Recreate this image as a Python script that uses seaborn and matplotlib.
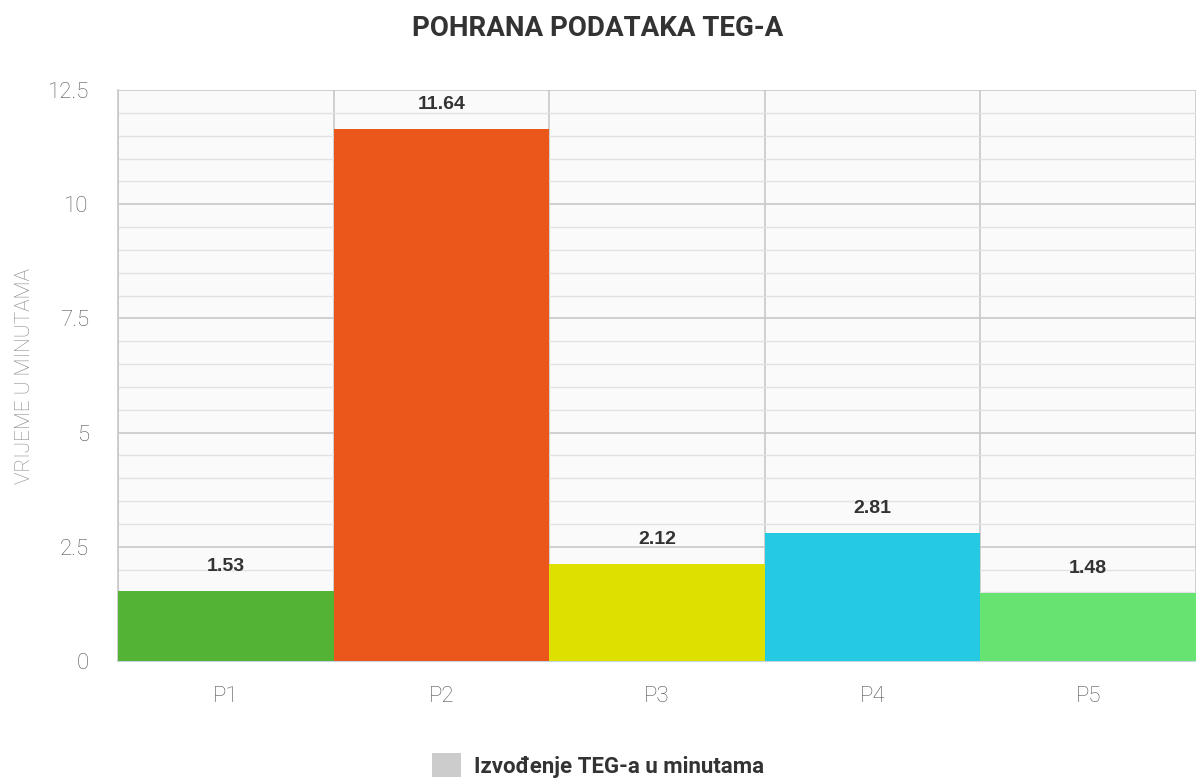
import numpy as np
import pandas as pd
import seaborn as sns
import matplotlib.pyplot as plt
from matplotlib.patches import Patch
from matplotlib import ticker

categories = ['P1', 'P2', 'P3', 'P4', 'P5']
values = [1.53, 11.64, 2.12, 2.81, 1.48]
colors = ['#52b334', '#eb571b', '#dee000', '#25c9e2', '#66e370']
y_ticks = [0, 2.5, 5, 7.5, 10, 12.5]
y_tick_labels = ['0', '2.5', '5', '7.5', '10', '12.5']

df = pd.DataFrame({'period': categories, 'minutes': values})

sns.set_style('white')
plt.rcParams['font.family'] = ['Roboto', 'DejaVu Sans']

fig = plt.figure(figsize=(11.96, 7.81), dpi=100)
ax = fig.add_axes([118 / 1196, 120 / 781, 1 - 118 / 1196, 571 / 781])
ax.set_facecolor('#fafafa')

sns.barplot(data=df, x='period', y='minutes', hue='period', palette=colors,
            width=1.0, dodge=False, legend=False, saturation=1, linewidth=0,
            ax=ax, zorder=3)

ax.set_ylim(0, 12.5)
ax.set_xlim(-0.5, len(categories) - 0.5)
ax.set_yticks(y_ticks)
ax.set_yticklabels(y_tick_labels)
ax.yaxis.set_minor_locator(ticker.MultipleLocator(0.5))
ax.xaxis.set_minor_locator(ticker.FixedLocator(np.arange(-0.5, len(categories), 1.0)))

ax.grid(which='major', axis='y', color='#c8c8c8', linewidth=1.2, zorder=0)
ax.grid(which='minor', axis='y', color='#e2e2e2', linewidth=1.0, zorder=0)
ax.grid(which='minor', axis='x', color='#c8c8c8', linewidth=1.2, zorder=0)
ax.set_axisbelow(True)

ax.tick_params(axis='y', which='both', length=0, labelsize=16, labelcolor='#555555', pad=21)
ax.tick_params(axis='x', which='major', length=0, labelsize=16, labelcolor='#555555', pad=18)
ax.tick_params(axis='x', which='minor', length=20, color='#c5d3e3', width=1.2)
for lbl in ax.get_yticklabels() + ax.get_xticklabels():
    lbl.set_fontweight('light')

for side in ['top', 'right']:
    ax.spines[side].set_visible(False)
ax.spines['left'].set_color('#c8c8c8')
ax.spines['left'].set_linewidth(1.2)
ax.spines['bottom'].set_color('#c5d3e3')
ax.spines['bottom'].set_linewidth(1.5)

for i, v in enumerate(values):
    ax.text(i, v + 0.35, f'{v:.2f}', ha='center', va='bottom', fontsize=14,
            fontweight='bold', color='#333333', family='Liberation Sans', zorder=4)

ax.set_xlabel('')
ax.set_ylabel('VRIJEME U MINUTAMA', fontsize=15, color='#888888', fontweight='light')
ax.yaxis.set_label_coords(-0.078, 0.5)

fig.text(0.5, 0.963, 'POHRANA PODATAKA TEG-A', ha='center', va='center',
         fontsize=20, fontweight='bold', color='#333333')

handle = Patch(facecolor='#cccccc', edgecolor='none')
fig.legend([handle], ['Izvođenje TEG-a u minutama'], loc='center', bbox_to_anchor=(0.5, 0.02),
           frameon=False, prop={'size': 16, 'weight': 'bold'}, handlelength=1.3, handleheight=1.3,
           handletextpad=0.6, labelcolor='#333333')

fig.savefig('out.png', dpi=100)
